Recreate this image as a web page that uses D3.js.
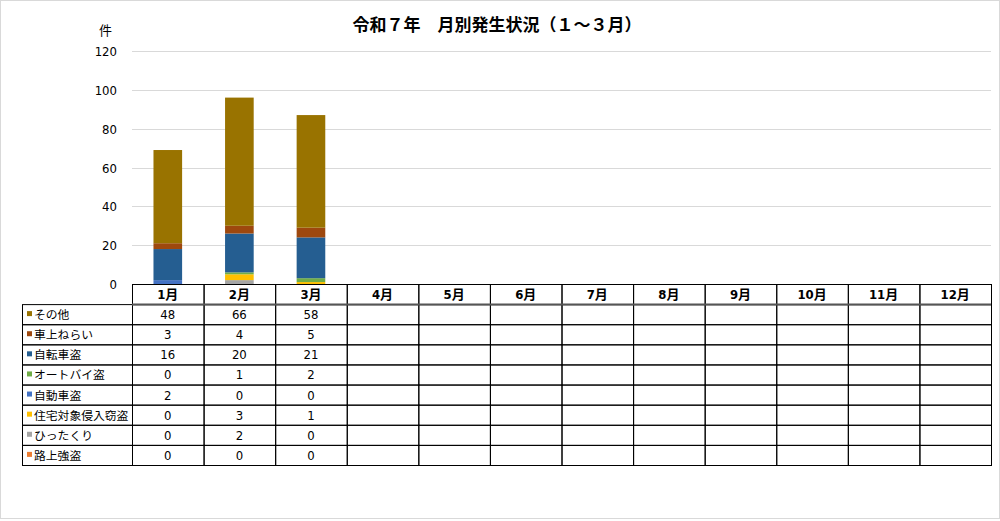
<!DOCTYPE html>
<html lang="ja">
<head>
<meta charset="utf-8">
<script src="https://d3js.org/d3.v7.min.js"></script>
<style>
  body { margin: 0; background: #fff; }
  svg text { font-family: "Liberation Sans Narrow", "DejaVu Sans Condensed", "Noto Sans CJK JP", sans-serif; font-stretch: condensed; }
</style>
<title>月別発生状況</title>
</head>
<body>
<div id="chart"></div>
<script>
// data, table row order (top to bottom)
var months = ["1月","2月","3月","4月","5月","6月","7月","8月","9月","10月","11月","12月"];
var series = ["その他","車上ねらい","自転車盗","オートバイ盗","自動車盗","住宅対象侵入窃盗","ひったくり","路上強盗"];
var colors = ["#997300","#9e480e","#255e91","#70ad47","#4472c4","#ffc000","#a5a5a5","#ed7d31"];
var sonota   = [48, 66, 58];
var shajou   = [3, 4, 5];
var jitensha = [16, 20, 21];
var autobai  = [0, 1, 2];
var jidousha = [2, 0, 0];
var jutaku   = [0, 3, 1];
var hittakuri= [0, 2, 0];
var rojou    = [0, 0, 0];
var yTicks = [0, 20, 40, 60, 80, 100, 120];
var title = "令和７年　月別発生状況（１～３月）";

var values = [sonota, shajou, jitensha, autobai, jidousha, jutaku, hittakuri, rojou];

var W = 1000, H = 521;
var svg = d3.select("#chart").append("svg").attr("width", W).attr("height", H);

// outer frame
svg.append("rect").attr("x", 0.5).attr("y", 0.5).attr("width", W - 1).attr("height", 518)
  .attr("fill", "#fff").attr("stroke", "#d9d9d9");

svg.append("text").attr("x", 497).attr("y", 31).attr("text-anchor", "middle")
  .style("font-family", "'Noto Sans CJK JP', sans-serif")
  .style("font-size", "17px").style("font-weight", "bold").text(title);

var x = d3.scaleBand().domain(months).range([132, 991]).paddingInner(0);
var y = d3.scaleLinear().domain([0, 120]).range([284, 51]);

// gridlines + y labels
svg.append("g").selectAll("line").data(yTicks.slice(1)).join("line")
  .attr("x1", 132).attr("x2", 991)
  .attr("y1", d => Math.round(y(d)) + 0.5).attr("y2", d => Math.round(y(d)) + 0.5)
  .attr("stroke", "#d9d9d9");
svg.append("g").selectAll("text").data(yTicks).join("text")
  .attr("x", 117).attr("y", d => y(d) + 5).attr("text-anchor", "end")
  .style("font-size", "13px").text(d => d);
svg.append("text").attr("x", 99).attr("y", 35)
  .style("font-family", "'Noto Sans CJK JP', sans-serif").style("font-size", "13px").text("件");

// stacked bars, bottom series first
var rows = months.slice(0, sonota.length).map(function (m, j) {
  var r = { month: m };
  series.forEach(function (s, i) { r[s] = values[i][j]; });
  return r;
});
var stack = d3.stack().keys(series.slice().reverse())(rows);
var bw = x.bandwidth() * 0.4;
svg.append("g").selectAll("g").data(stack).join("g")
  .attr("fill", d => colors[series.indexOf(d.key)])
  .selectAll("rect").data(d => d).join("rect")
  .attr("x", d => x(d.data.month) + (x.bandwidth() - bw) / 2)
  .attr("width", bw)
  .attr("y", d => y(d[1]))
  .attr("height", d => y(d[0]) - y(d[1]));

// data table
var ry = d3.scaleBand().domain(["head"].concat(series)).range([284, 465]);
var tbl = svg.append("g");
// header cells
tbl.selectAll("rect.h").data(months).join("rect").attr("class", "h")
  .attr("x", d => x(d) + 0.5).attr("y", ry("head") + 0.5)
  .attr("width", x.bandwidth()).attr("height", ry.bandwidth())
  .attr("fill", "none").attr("stroke", "#000");
tbl.selectAll("text.h").data(months).join("text").attr("class", "h")
  .attr("x", d => x(d) + x.bandwidth() / 2).attr("y", ry("head") + 15)
  .attr("text-anchor", "middle").style("font-size", "13px").style("font-weight", "bold")
  .text(d => d);
// body rows
series.forEach(function (s, i) {
  var g = tbl.append("g");
  g.append("rect").attr("x", 22.5).attr("y", ry(s) + 0.5)
    .attr("width", x.range()[0] - 22).attr("height", ry.bandwidth())
    .attr("fill", "none").attr("stroke", "#000");
  g.append("rect").attr("x", 27).attr("y", ry(s) + 7).attr("width", 5).attr("height", 5)
    .attr("fill", colors[i]);
  g.append("text").attr("x", 34).attr("y", ry(s) + 15)
    .style("font-family", "'Noto Sans CJK JP', sans-serif").style("font-size", "11.8px").text(s);
  g.selectAll("rect.c").data(months).join("rect").attr("class", "c")
    .attr("x", d => x(d) + 0.5).attr("y", ry(s) + 0.5)
    .attr("width", x.bandwidth()).attr("height", ry.bandwidth())
    .attr("fill", "none").attr("stroke", "#000");
  g.selectAll("text.v").data(values[i]).join("text").attr("class", "v")
    .attr("x", (d, j) => x(months[j]) + x.bandwidth() / 2).attr("y", ry(s) + 15)
    .attr("text-anchor", "middle").style("font-size", "13px").text(d => d);
});
// heavier rule under header
tbl.append("line").attr("x1", 132).attr("x2", 991)
  .attr("y1", ry(series[0]) + 0.5).attr("y2", ry(series[0]) + 0.5)
  .attr("stroke", "#555").attr("stroke-width", 2);
</script>
</body>
</html>
